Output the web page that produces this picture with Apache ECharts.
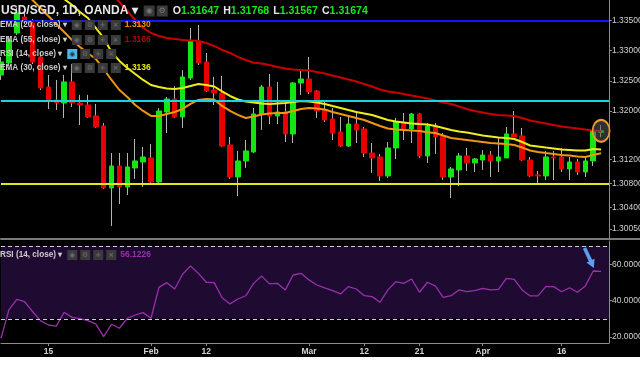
<!DOCTYPE html>
<html><head><meta charset="utf-8">
<script src="https://cdn.jsdelivr.net/npm/echarts@6/dist/echarts.min.js"></script>
<style>html,body{margin:0;padding:0;background:#fff;}#c{width:640px;height:357px;background:#000;}</style>
</head><body><div id="c"></div>
<script>
// ---------- DATA ----------
const categories = [
 '2018-01-05','2018-01-08','2018-01-09','2018-01-10','2018-01-11','2018-01-12',
 '2018-01-15','2018-01-16','2018-01-17','2018-01-18','2018-01-19',
 '2018-01-22','2018-01-23','2018-01-24','2018-01-25','2018-01-26',
 '2018-01-29','2018-01-30','2018-01-31','2018-02-01','2018-02-02',
 '2018-02-05','2018-02-06','2018-02-07','2018-02-08','2018-02-09',
 '2018-02-12','2018-02-13','2018-02-14','2018-02-15','2018-02-16',
 '2018-02-19','2018-02-20','2018-02-21','2018-02-22','2018-02-23',
 '2018-02-26','2018-02-27','2018-02-28','2018-03-01','2018-03-02',
 '2018-03-05','2018-03-06','2018-03-07','2018-03-08','2018-03-09',
 '2018-03-12','2018-03-13','2018-03-14','2018-03-15','2018-03-16',
 '2018-03-19','2018-03-20','2018-03-21','2018-03-22','2018-03-23',
 '2018-03-26','2018-03-27','2018-03-28','2018-03-29','2018-03-30',
 '2018-04-02','2018-04-03','2018-04-04','2018-04-05','2018-04-06',
 '2018-04-09','2018-04-10','2018-04-11','2018-04-12','2018-04-13',
 '2018-04-16','2018-04-17','2018-04-18','2018-04-19','2018-04-20',
 '2018-04-23',''
];
const opens = [1.32598,1.32796,1.33293,1.33558,1.33459,1.32896,1.32399,1.32184,1.32134,1.32482,
 1.32134,1.32101,1.31919,1.31753,1.30727,1.31091,1.30743,1.31058,1.31157,1.31224,
 1.30826,1.31985,1.32200,1.31902,1.32548,1.33160,1.32813,1.32349,1.32300,1.31439,
 1.30909,1.31174,1.31323,1.31952,1.32399,1.31919,1.31985,1.31621,1.32465,1.32531,
 1.32333,1.32018,1.31869,1.31654,1.31422,1.31786,1.31704,1.31306,1.31240,1.30926,
 1.31389,1.31820,1.31704,1.31952,1.31257,1.31753,1.31588,1.30909,1.31025,1.31257,
 1.31141,1.31190,1.31273,1.31174,1.31224,1.31621,1.31588,1.31190,1.30942,1.30926,
 1.31240,1.31240,1.31042,1.31157,1.30992,1.31174,1.31647];
const closes = [1.32813,1.33177,1.33624,1.33508,1.32813,1.32382,1.32184,1.32134,1.32482,1.32134,
 1.32101,1.31902,1.31737,1.30727,1.31091,1.30743,1.31075,1.31174,1.31240,1.30826,
 1.32002,1.32200,1.31902,1.32565,1.33160,1.32796,1.32333,1.32300,1.31422,1.30909,
 1.31174,1.31340,1.31952,1.32399,1.31919,1.31985,1.31621,1.32465,1.32531,1.32316,
 1.32002,1.31853,1.31637,1.31422,1.31786,1.31687,1.31306,1.31224,1.30926,1.31389,
 1.31820,1.31704,1.31952,1.31257,1.31753,1.31571,1.30909,1.31042,1.31257,1.31141,
 1.31207,1.31273,1.31174,1.31240,1.31621,1.31571,1.31190,1.30926,1.30926,1.31240,
 1.31224,1.31042,1.31157,1.30992,1.31174,1.31671,1.31674];
const lows = [1.32515,1.32747,1.33260,1.33442,1.32780,1.32349,1.32035,1.32018,1.31886,1.32068,
 1.31770,1.31886,1.31720,1.30710,1.30098,1.30462,1.30611,1.30876,1.30743,1.30793,
 1.30810,1.31637,1.31886,1.31720,1.32515,1.32763,1.32316,1.32101,1.31406,1.30876,
 1.30594,1.31058,1.31306,1.31687,1.31786,1.31786,1.31488,1.31472,1.32267,1.32283,
 1.31886,1.31820,1.31522,1.31406,1.31406,1.31472,1.31240,1.30975,1.30843,1.30893,
 1.31207,1.31522,1.31472,1.31224,1.31141,1.31290,1.30859,1.30561,1.30760,1.31008,
 1.30992,1.31025,1.30909,1.30992,1.31224,1.31571,1.31174,1.30909,1.30810,1.30859,
 1.30859,1.30992,1.30859,1.30942,1.30909,1.31091,1.31567];
const highs = [1.32896,1.33243,1.33707,1.33641,1.33525,1.32978,1.32598,1.32515,1.32598,1.32780,
 1.32267,1.32267,1.32118,1.31803,1.31306,1.31306,1.31306,1.31538,1.31406,1.31455,
 1.32051,1.32233,1.32416,1.32680,1.33376,1.33425,1.32962,1.32565,1.32581,1.31571,
 1.31340,1.31522,1.32051,1.32432,1.32614,1.32482,1.32167,1.32482,1.32680,1.32896,
 1.32349,1.32167,1.32051,1.31902,1.31902,1.32002,1.31737,1.31472,1.31290,1.31488,
 1.31886,1.31969,1.31969,1.31969,1.31803,1.31803,1.31637,1.31075,1.31306,1.31389,
 1.31224,1.31356,1.31340,1.31571,1.31737,1.32002,1.31720,1.31240,1.31008,1.31340,
 1.31340,1.31389,1.31240,1.31207,1.31240,1.31687,1.31768];
const ema20 = [null,null,null,1.33972,1.33839,1.33707,1.33575,1.33442,1.33310,1.33177,
 1.33061,1.32962,1.32863,1.32697,1.32515,1.32349,1.32233,1.32101,1.32002,1.31919,
 1.31919,1.31952,1.31985,1.32035,1.32118,1.32184,1.32200,1.32192,1.32085,1.32002,
 1.31936,1.31886,1.31911,1.31944,1.31960,1.31969,1.31969,1.32002,1.32035,1.32051,
 1.32043,1.32027,1.31985,1.31952,1.31919,1.31886,1.31853,1.31803,1.31753,1.31712,
 1.31695,1.31687,1.31679,1.31670,1.31650,1.31637,1.31596,1.31555,1.31538,1.31522,
 1.31505,1.31489,1.31472,1.31464,1.31455,1.31439,1.31397,1.31348,1.31323,1.31306,
 1.31290,1.31273,1.31265,1.31248,1.31240,1.31273,1.31300];
const ema30 = [null,null,null,null,null,null,null,1.33955,1.33856,1.33757,
 1.33641,1.33541,1.33376,1.33210,1.32978,1.32830,1.32714,1.32614,1.32515,1.32432,
 1.32399,1.32374,1.32366,1.32382,1.32416,1.32449,1.32432,1.32407,1.32325,1.32250,
 1.32192,1.32159,1.32142,1.32126,1.32118,1.32126,1.32134,1.32151,1.32167,1.32159,
 1.32142,1.32118,1.32084,1.32052,1.32018,1.31985,1.31960,1.31935,1.31894,1.31853,
 1.31828,1.31811,1.31795,1.31786,1.31778,1.31753,1.31720,1.31687,1.31662,1.31646,
 1.31621,1.31596,1.31580,1.31563,1.31555,1.31538,1.31488,1.31430,1.31414,1.31397,
 1.31381,1.31364,1.31356,1.31348,1.31348,1.31373,1.31362];
const ema55 = [null,null,null,null,null,null,null,null,null,null,
 null,null,null,null,1.33940,1.33806,1.33657,1.33508,1.33376,1.33293,
 1.33243,1.33210,1.33194,1.33177,1.33169,1.33160,1.33127,1.33078,1.33012,1.32962,
 1.32896,1.32846,1.32801,1.32788,1.32763,1.32730,1.32705,1.32689,1.32680,1.32672,
 1.32647,1.32623,1.32589,1.32556,1.32523,1.32490,1.32449,1.32407,1.32358,1.32325,
 1.32308,1.32283,1.32258,1.32233,1.32209,1.32175,1.32142,1.32118,1.32076,1.32035,
 1.32002,1.31977,1.31952,1.31935,1.31927,1.31919,1.31886,1.31844,1.31820,1.31795,
 1.31770,1.31745,1.31729,1.31712,1.31695,1.31680,1.31660];
const rsi14 = [19.3,34.9,40.7,39.4,34.0,29.0,26.6,26.0,33.6,30.8,
 30.1,29.0,27.2,20.2,27.0,24.8,30.3,32.1,33.4,30.3,
 47.3,49.9,46.4,54.5,59.1,55.0,50.1,49.9,41.6,38.2,
 40.9,42.7,49.5,53.6,49.2,49.5,45.9,54.1,55.0,51.4,
 48.6,47.0,45.5,43.7,47.7,46.4,42.7,42.2,39.1,45.9,
 50.4,49.5,51.9,44.6,50.1,48.1,41.8,42.7,45.9,44.9,
 45.5,46.8,45.9,46.2,52.3,51.7,45.9,42.6,42.6,47.7,
 47.7,44.9,47.1,44.6,48.1,56.3,56.1226];
const levelLines = [1.33500, 1.32175, 1.30790];
const levelColors = ['#1414ff', '#19d3e0', '#e6e619'];
const priceTicks = [1.335, 1.330, 1.325, 1.320, 1.312, 1.308, 1.304, 1.3005];
const rsiTicks = [20, 40, 60];
const rsiBands = [30, 70];
const tickDates = ['2018-01-15','2018-02-01','2018-02-12','2018-03-01','2018-03-12','2018-03-21','2018-04-02','2018-04-16'];
const tickLabels = ['15','Feb','12','Mar','12','21','Apr','16'];

// ---------- BUILD ----------
const last = opens.length - 1;
const wickData = opens.map((o, i) => [o, closes[i], lows[i], highs[i]]);
const bodyData = opens.map((o, i) => [o, closes[i], Math.min(o, closes[i]), Math.max(o, closes[i])]);
const FONT = 'Liberation Sans, Arial, sans-serif';
const GREEN = '#14e614', RED = '#e60000';

const iconStyle = { width: 10, height: 10, lineHeight: 10, backgroundColor: '#3a3a3a', color: '#6a6a6a', fontSize: 7, align: 'center', fontFamily: 'DejaVu Sans' };
function legendTitle(top, name, value, valueColor, highlight) {
  return {
    left: 0, top: top, padding: 0,
    text: `{t|${name} ▾}{g7| }{${highlight ? 'ih' : 'i'}|◉}{g3| }{i|⚙}{g3| }{i|+}{g3| }{i|×}{g5| }{v|${value}}`,
    textStyle: { rich: {
      t: { color: '#cdcdcd', fontSize: 8.2, fontFamily: FONT, lineHeight: 10 },
      g7: { width: 5 }, g3: { width: 3 }, g5: { width: 4 },
      i: iconStyle,
      ih: Object.assign({}, iconStyle, { backgroundColor: '#4fb6e6', color: '#1a3a55' }),
      v: { color: valueColor, fontSize: 8.5, fontFamily: FONT, lineHeight: 10 }
    } }
  };
}
const ohlcText = `{w|O}{gr|${opens[last].toFixed(5)}}{g4| }{w|H}{gr|${highs[last].toFixed(5)}}{g4| }{w|L}{gr|${lows[last].toFixed(5)}}{g4| }{w|C}{gr|${closes[last].toFixed(5)}}`;

const option = {
  animation: false,
  backgroundColor: '#000',
  title: [
    { left: 1, top: 2, padding: 0,
      text: `{s|USD/SGD, 1D, OANDA ▾}{g8| }{ib|◉}{g2| }{ib|⚙}{g6| }` + ohlcText,
      textStyle: { rich: {
        s: { color: '#e6e6e6', fontSize: 12, fontFamily: FONT, lineHeight: 13 },
        g8: { width: 6 }, g2: { width: 2 }, g6: { width: 5 }, g4: { width: 4 },
        ib: { width: 11, height: 11, lineHeight: 11, backgroundColor: '#3a3a3a', color: '#777', fontSize: 8, align: 'center', fontFamily: 'DejaVu Sans' },
        w: { color: '#e6e6e6', fontSize: 10.6, fontFamily: FONT },
        gr: { color: '#19e619', fontSize: 10.6, fontFamily: FONT }
      } } },
    legendTitle(16, 'EMA (20, close)', ema20[last].toFixed(4), '#f0960f', false),
    legendTitle(31, 'EMA (55, close)', ema55[last].toFixed(4), '#b40000', false),
    legendTitle(45, 'RSI (14, close)', '', '#fff', true),
    legendTitle(59, 'EMA (30, close)', ema30[last].toFixed(4), '#e6e619', false),
    legendTitle(246, 'RSI (14, close)', rsi14[last].toFixed(4), '#9b2fae', false)
  ],
  graphic: [
    { type: 'line', silent: true, shape: { x1: 609, y1: 239, x2: 640, y2: 239 }, style: { stroke: '#7a7a7a', lineWidth: 2 } }
  ],
  grid: [
    { left: 1, right: 31, top: 0, height: 239, outerBoundsMode: 'none', containLabel: false },
    { left: 1, right: 31, top: 241, height: 102, outerBoundsMode: 'none', containLabel: false }
  ],
  xAxis: [
    { type: 'category', gridIndex: 0, data: categories, boundaryGap: false,
      axisLine: { show: true, lineStyle: { color: '#7a7a7a', width: 2 } },
      axisTick: { show: false }, axisLabel: { show: false }, splitLine: { show: false } },
    { type: 'category', gridIndex: 1, data: categories, boundaryGap: false,
      axisLine: { show: true, lineStyle: { color: '#8c8c8c' } },
      axisTick: { show: true, length: 3, interval: (i, v) => tickDates.includes(v), lineStyle: { color: '#8c8c8c' } },
      axisLabel: { interval: (i, v) => tickDates.includes(v), formatter: v => tickLabels[tickDates.indexOf(v)] || '',
        color: '#d2d2d2', fontSize: 8.5, fontWeight: 'bold', fontFamily: FONT, margin: 4 },
      splitLine: { show: false } }
  ],
  yAxis: [
    { type: 'value', gridIndex: 0, position: 'right', min: 1.29882, max: 1.33839,
      axisLine: { show: true, lineStyle: { color: '#8c8c8c' } },
      axisTick: { show: true, length: 3, customValues: priceTicks, lineStyle: { color: '#8c8c8c' } },
      axisLabel: { customValues: priceTicks, formatter: v => v.toFixed(5), color: '#d2d2d2', fontSize: 8.5, fontFamily: FONT, margin: 3 },
      splitLine: { show: false } },
    { type: 'value', gridIndex: 1, position: 'right', min: 16.7, max: 72.8,
      axisLine: { show: true, lineStyle: { color: '#8c8c8c' } },
      axisTick: { show: true, length: 3, customValues: rsiTicks, lineStyle: { color: '#8c8c8c' } },
      axisLabel: { customValues: rsiTicks, formatter: v => v.toFixed(4), color: '#d2d2d2', fontSize: 8.5, fontFamily: FONT, margin: 3 },
      splitLine: { show: false } }
  ],
  series: [
    { name: 'wicks', type: 'candlestick', xAxisIndex: 0, yAxisIndex: 0, data: wickData, barWidth: 1, z: 2,
      itemStyle: { color: '#b4b4b4', color0: '#b4b4b4', borderColor: '#b4b4b4', borderColor0: '#b4b4b4', borderWidth: 1 } },
    { name: 'bodies', type: 'candlestick', xAxisIndex: 0, yAxisIndex: 0, data: bodyData, barWidth: 5, z: 3,
      itemStyle: { color: GREEN, color0: RED, borderColor: GREEN, borderColor0: RED, borderWidth: 1 },
      markPoint: { silent: true, animation: false, label: { show: false },
        data: [{ coord: [categories[last], closes[last]], symbol: 'circle', symbolSize: [17, 22],
          itemStyle: { color: 'rgba(85,85,85,0.55)', borderColor: '#e89a2c', borderWidth: 2 } }] },
      markLine: { silent: true, symbol: 'none', animation: false, precision: 6,
        data: [{ yAxis: closes[last], lineStyle: { opacity: 0 },
          label: { show: true, position: 'end', distance: 0, formatter: closes[last].toFixed(5),
            backgroundColor: '#19e619', color: '#063006', fontSize: 8.5, fontFamily: FONT, padding: [2, 3, 1, 2] } }] } },
    { name: 'EMA20', type: 'line', xAxisIndex: 0, yAxisIndex: 0, data: ema20, showSymbol: false, z: 4,
      lineStyle: { color: '#f0960f', width: 2 } },
    { name: 'EMA30', type: 'line', xAxisIndex: 0, yAxisIndex: 0, data: ema30, showSymbol: false, z: 4,
      lineStyle: { color: '#eded1e', width: 2 } },
    { name: 'EMA55', type: 'line', xAxisIndex: 0, yAxisIndex: 0, data: ema55, showSymbol: false, z: 4,
      lineStyle: { color: '#c80000', width: 2 },
      markLine: { silent: true, symbol: 'none', animation: false, precision: 6, label: { show: false },
        data: levelLines.map((v, k) => ({ yAxis: v, lineStyle: { color: levelColors[k], width: 2, type: 'solid' } })) } },
    { name: 'RSI', type: 'line', xAxisIndex: 1, yAxisIndex: 1, data: rsi14, showSymbol: false, z: 4,
      lineStyle: { color: '#9b2fae', width: 1.3 },
      markArea: { silent: true, itemStyle: { color: '#1f0a31' }, data: [[{ yAxis: rsiBands[0] }, { yAxis: rsiBands[1] }]] },
      markLine: { silent: true, symbol: 'none', animation: false, precision: 6, label: { show: false },
        data: rsiBands.map(v => ({ yAxis: v, lineStyle: { color: '#cfcfcf', width: 1, type: [4, 3] } })) },
      markPoint: { silent: true, animation: false, label: { show: false },
        data: [{ coord: [categories[last - 1], 63.5], symbol: 'path://M3,0 L7,0 L7,14 L10,14 L5,22 L0,14 L3,14 Z',
          symbolSize: [9, 22], symbolRotate: 25, symbolOffset: [-4, 0], itemStyle: { color: '#5a9ef0' } }] } }
  ]
};
const chart = echarts.init(document.getElementById('c'));
chart.setOption(option);
</script>
</body></html>
